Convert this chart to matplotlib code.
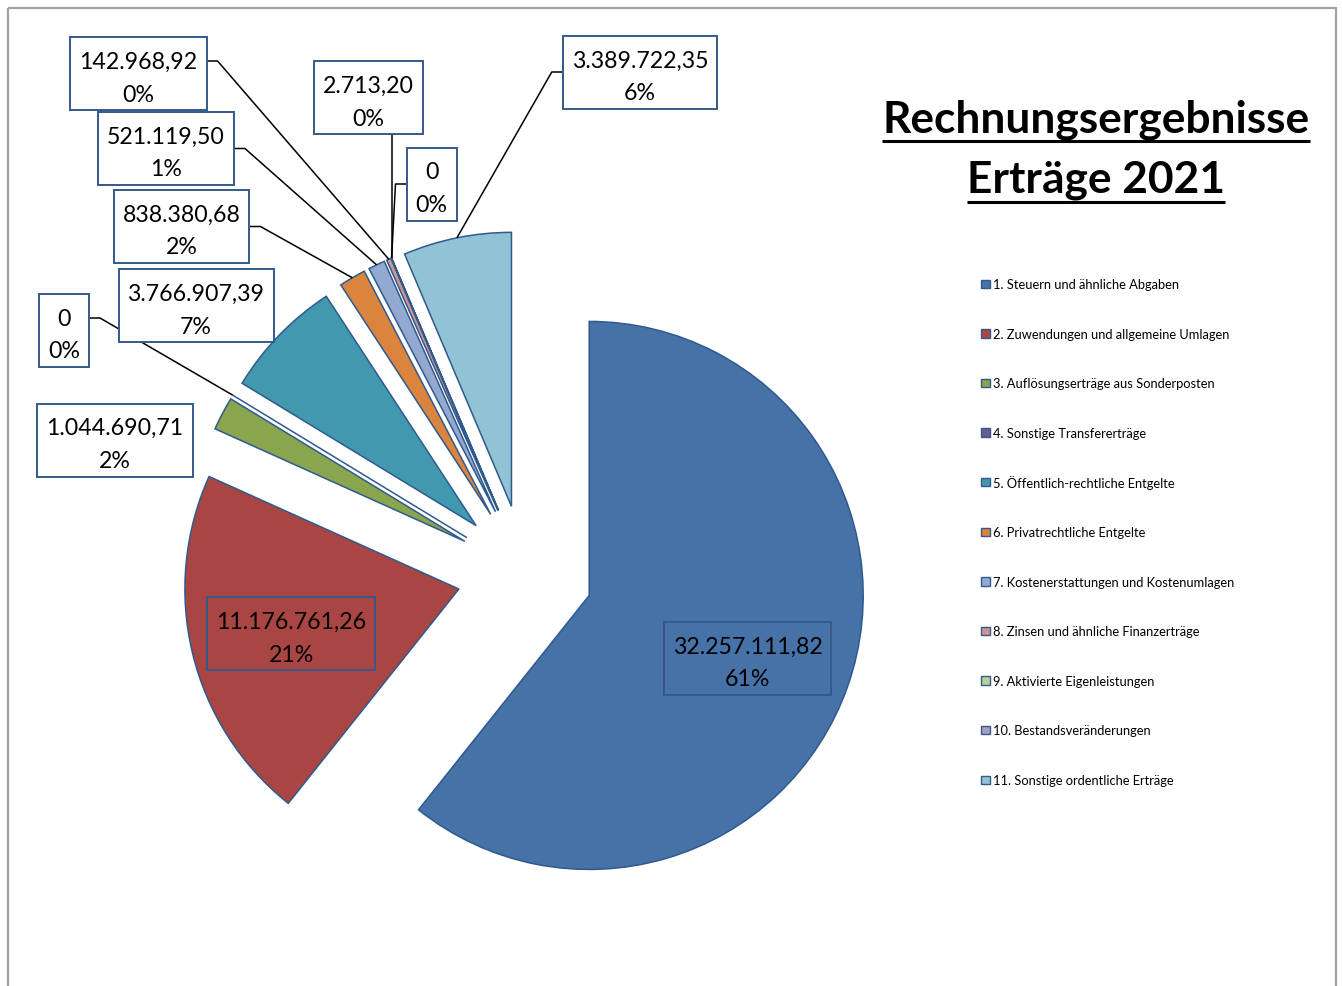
import matplotlib
matplotlib.use("Agg")
import matplotlib.pyplot as plt
from matplotlib.patches import Rectangle
import numpy as np

# ---------------- data ----------------
categories = [
    "1. Steuern und ähnliche Abgaben",
    "2. Zuwendungen und allgemeine Umlagen",
    "3. Auflösungserträge aus Sonderposten",
    "4. Sonstige Transfererträge",
    "5. Öffentlich-rechtliche Entgelte",
    "6. Privatrechtliche Entgelte",
    "7. Kostenerstattungen und Kostenumlagen",
    "8. Zinsen und ähnliche Finanzerträge",
    "9. Aktivierte Eigenleistungen",
    "10. Bestandsveränderungen",
    "11. Sonstige ordentliche Erträge",
]
values = [32257111.82, 11176761.26, 1044690.71, 0.0, 3766907.39,
          838380.68, 521119.50, 142968.92, 2713.20, 0.0, 3389722.35]
colors = ["#4672A8", "#A94644", "#89A54E", "#71588F", "#4298AF", "#DB843D",
          "#93A9CF", "#D19392", "#B9CD96", "#A99BBD", "#92C3D4"]
title_lines = ["Rechnungsergebnisse", "Erträge 2021"]

# ---------------- layout (pixels from top-left) ----------------
W, H = 1342, 987
PIE_CX, PIE_CY, PIE_R, EXPLODE = 525, 574, 274, 68
FONT = ["Lato", "DejaVu Sans"]
EDGE = "#2F5A8E"
BOX_EC = "#35598A"
# label index -> (box centre x, box centre y, leader side, leader y on box, filled)
LABEL_LAYOUT = {
    0: (747.5, 659.5, None, None, False),
    1: (291, 634.5, None, None, False),
    2: (115, 441, None, None, True),
    3: (64, 331.5, "right", 319, True),
    4: (196, 306.5, None, None, True),
    5: (181.5, 227.5, "right", 227.5, True),
    6: (166, 149.5, "right", 149.5, True),
    7: (138.5, 74.5, "right", 62, True),
    8: (368.5, 98.5, "bottom", None, True),
    9: (431.5, 185, "left", 185, True),
    10: (640, 73.5, "left", 73, True),
}
BOX_H = 73
PAD_X = 9
ELBOW = 11

fig = plt.figure(figsize=(W / 100, H / 100), dpi=100)
ax = fig.add_axes([0, 0, 1, 1])

wedges, _ = ax.pie(values, colors=colors, startangle=-90, counterclock=True,
                   radius=PIE_R, center=(PIE_CX, PIE_CY),
                   explode=[EXPLODE] * len(values),
                   wedgeprops=dict(edgecolor=EDGE, linewidth=1.1))
ax.set_xlim(0, W)
ax.set_ylim(H, 0)
ax.set_aspect("equal")
ax.axis("off")

# outer chart border
ax.add_patch(Rectangle((8, 9), 1328, 1100, fill=False, ec="#A3A3A3", lw=1.6, zorder=0))

renderer = fig.canvas.get_renderer()


def fit_size(text, target_px, weight="normal", base=20.0):
    t = ax.text(0, 0, text, fontsize=base, family=FONT, weight=weight)
    w = t.get_window_extent(renderer).width
    t.remove()
    return base * target_px / w


def fmt_de(v):
    if v == 0:
        return "0"
    s = f"{v:,.2f}"
    return s.replace(",", "X").replace(".", ",").replace("X", ".")


total = sum(values)
LS = fit_size("142.968,92", 118)

for i, w in enumerate(wedges):
    cx, cy, side, ay, filled = LABEL_LAYOUT[i]
    vstr = fmt_de(values[i])
    pstr = f"{round(values[i] / total * 100):.0f}%"
    t1 = ax.text(cx, cy - 6, vstr, ha="center", va="baseline", fontsize=LS,
                 family=FONT, color="black", zorder=5)
    t2 = ax.text(cx, cy + 27, pstr, ha="center", va="baseline", fontsize=LS,
                 family=FONT, color="black", zorder=5)
    bw = max(t1.get_window_extent(renderer).width,
             t2.get_window_extent(renderer).width) + 2 * PAD_X
    x0, x1 = cx - bw / 2, cx + bw / 2
    ax.add_patch(Rectangle((x0, cy - BOX_H / 2), bw, BOX_H,
                           fc="white" if filled else "none", ec=BOX_EC,
                           lw=1.4, zorder=4))
    if side is None:
        continue
    thm = np.deg2rad((w.theta1 + w.theta2) / 2)
    axp = w.center[0] + w.r * np.cos(thm)
    ayp = w.center[1] + w.r * np.sin(thm)
    if side == "right":
        xs = [x1, x1 + ELBOW, axp]
        ys = [ay, ay, ayp]
    elif side == "left":
        xs = [x0, x0 - ELBOW, axp]
        ys = [ay, ay, ayp]
    else:
        xs = [axp, axp]
        ys = [cy + BOX_H / 2, ayp]
    ax.plot(xs, ys, color="black", lw=1.1, zorder=3, solid_capstyle="butt")

# title
TS = fit_size(title_lines[0], 427, weight="bold")
for line, by, uy in zip(title_lines, [132, 192], [142, 203]):
    t = ax.text(1096, by, line, ha="center", va="baseline", fontsize=TS,
                weight="bold", family=FONT, color="black")
    bb = t.get_window_extent(renderer)
    ax.plot([bb.x0, bb.x1], [uy, uy], color="black", lw=2.2,
            solid_capstyle="butt")

# legend
LGS = fit_size(categories[0], 188)
LEG_Y0, LEG_DY = 285, 49.6
for i, (cat, col) in enumerate(zip(categories, colors)):
    y = LEG_Y0 + i * LEG_DY
    ax.add_patch(Rectangle((981, y - 4.5), 8.5, 8.5, fc=col, ec=BOX_EC, lw=1.0))
    ax.text(993, y, cat, ha="left", va="center", fontsize=LGS, family=FONT,
            color="black")

fig.savefig("out.png", dpi=100)
